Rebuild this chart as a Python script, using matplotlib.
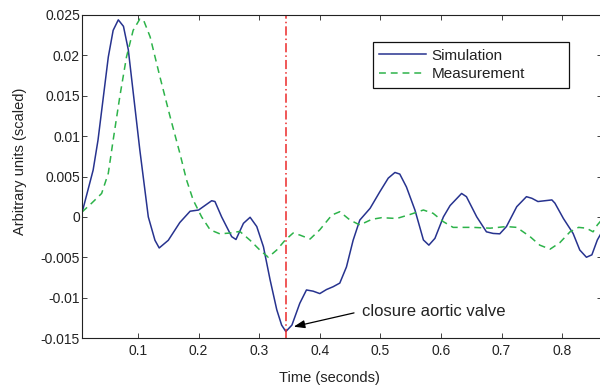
import numpy as np
import matplotlib
matplotlib.use("Agg")
import matplotlib.pyplot as plt

plt.rcParams['font.family'] = ['Liberation Sans', 'DejaVu Sans']

# simulation curve (time in s, value in 1e-3 units)
sim_t = [0.0076, 0.026, 0.034, 0.051, 0.059, 0.0675, 0.076, 0.084, 0.103, 0.117,
         0.128, 0.135, 0.150, 0.169, 0.186, 0.200, 0.2216, 0.227, 0.238, 0.2546,
         0.2617, 0.274, 0.285, 0.296, 0.307, 0.318, 0.329, 0.337, 0.344, 0.354,
         0.367, 0.378, 0.389, 0.400, 0.411, 0.422, 0.433, 0.444, 0.455, 0.466,
         0.483, 0.499, 0.513, 0.524, 0.532, 0.543, 0.557, 0.571, 0.580, 0.590,
         0.604, 0.615, 0.634, 0.642, 0.659, 0.675, 0.686, 0.697, 0.708, 0.725,
         0.741, 0.750, 0.760, 0.783, 0.788, 0.802, 0.818, 0.829, 0.840, 0.849,
         0.858, 0.866]
sim_v = [0.5, 5.8, 9.5, 19.8, 23.1, 24.4, 23.6, 20.7, 8.3, 0.0,
         -2.9, -3.85, -2.9, -0.7, 0.7, 0.85, 2.0, 1.9, 0.0, -2.45,
         -2.8, -0.8, -0.05, -1.2, -3.7, -7.8, -11.5, -13.4, -14.2, -13.4,
         -10.7, -9.05, -9.2, -9.5, -9.0, -8.65, -8.2, -6.2, -2.9, -0.4,
         1.06, 3.1, 4.8, 5.5, 5.3, 3.7, 0.85, -2.86, -3.5, -2.66,
         0.0, 1.4, 2.9, 2.5, 0.0, -1.85, -2.05, -2.1, -1.2, 1.26,
         2.5, 2.3, 1.9, 2.1, 1.7, -0.2, -2.05, -4.1, -5.0, -4.7,
         -2.86, -1.8]

# measured curve
meas_t = [0.0076, 0.0236, 0.040, 0.051, 0.059, 0.070, 0.081, 0.092, 0.103, 0.109,
          0.120, 0.136, 0.153, 0.169, 0.180, 0.191, 0.205, 0.219, 0.235, 0.252,
          0.268, 0.285, 0.301, 0.315, 0.329, 0.3426, 0.356, 0.367, 0.384, 0.400,
          0.420, 0.433, 0.450, 0.466, 0.486, 0.502, 0.527, 0.549, 0.571, 0.587,
          0.604, 0.620, 0.653, 0.681, 0.708, 0.725, 0.747, 0.763, 0.780, 0.796,
          0.813, 0.827, 0.840, 0.851, 0.858, 0.866]
meas_v = [0.6, 1.7, 2.9, 5.4, 9.5, 14.9, 19.8, 23.1, 24.5, 24.4,
          22.3, 17.4, 12.4, 7.9, 4.6, 2.1, 0.0, -1.6, -2.1, -2.0,
          -1.8, -2.9, -4.1, -5.0, -4.1, -2.9, -2.0, -2.25, -2.74, -1.6,
          0.23, 0.64, -0.4, -1.0, -0.3, -0.1, -0.2, 0.3, 0.85, 0.44,
          -0.6, -1.3, -1.3, -1.4, -1.2, -1.3, -2.45, -3.5, -4.0, -3.2,
          -1.85, -1.3, -1.4, -1.85, -1.0, -0.3]

valve_t = 0.345
yticks = [-0.015, -0.01, -0.005, 0, 0.005, 0.01, 0.015, 0.02, 0.025]
ytick_labels = ["-0.015", "-0.01", "-0.005", "0", "0.005", "0.01", "0.015", "0.02", "0.025"]
xticks = [0.1, 0.2, 0.3, 0.4, 0.5, 0.6, 0.7, 0.8]
xtick_labels = ["0.1", "0.2", "0.3", "0.4", "0.5", "0.6", "0.7", "0.8"]

txt = '#222222'
fig = plt.figure(figsize=(6, 3.86), dpi=100)
ax = fig.add_axes([82/600, 1-338/386, 520/600, 323/386])

ax.plot(sim_t, np.array(sim_v)*1e-3, color='#27338f', lw=1.1, label='Simulation')
ax.plot(meas_t, np.array(meas_v)*1e-3, color='#2db34a', lw=1.1,
        linestyle=(0, (4.5, 3.2)), label='Measurement')
ax.axvline(valve_t, color='#ec2a2a', lw=1.1, linestyle=(0, (6, 2, 1, 2)))

ax.set_xlim(0.0076, 0.8657)
ax.set_ylim(-0.015, 0.025)
ax.set_xticks(xticks, xtick_labels)
ax.set_yticks(yticks, ytick_labels)
ax.tick_params(direction='in', length=3.5, width=0.6, top=True, right=True,
               labelsize=10, colors=txt)
ax.tick_params(axis='x', pad=4)
ax.tick_params(axis='y', pad=1.5)
for s in ax.spines.values():
    s.set_color(txt)
    s.set_linewidth(0.8)

ax.set_xlabel('Time (seconds)', fontsize=10.5, color=txt)
ax.set_ylabel('Arbitrary units (scaled)', fontsize=10.5, color=txt)
ax.xaxis.set_label_coords(0.475, -0.124)
ax.xaxis.label.set_va('center')
ax.yaxis.set_label_coords(-0.119, 0.546)
ax.yaxis.label.set_va('center')

ax.annotate('closure aortic valve', xy=(0.357, -0.0136), xytext=(0.47, -0.01166),
            va='center', ha='left', fontsize=12, color=txt,
            arrowprops=dict(arrowstyle='-|>,head_length=0.55,head_width=0.2',
                            color='black', lw=0.9, shrinkA=4, shrinkB=0,
                            relpos=(0, 0.5)))

leg = ax.legend(loc='upper left', bbox_to_anchor=(0.559, 0.916, 0.378, 0.0),
                mode='expand', borderaxespad=0, fontsize=11, frameon=True,
                fancybox=False, framealpha=1, edgecolor='#111111',
                handlelength=3.1, handletextpad=0.35, labelspacing=0.3,
                borderpad=0.42)
leg.get_frame().set_linewidth(0.9)
for t in leg.get_texts():
    t.set_color(txt)

fig.savefig('out.png', dpi=100)
